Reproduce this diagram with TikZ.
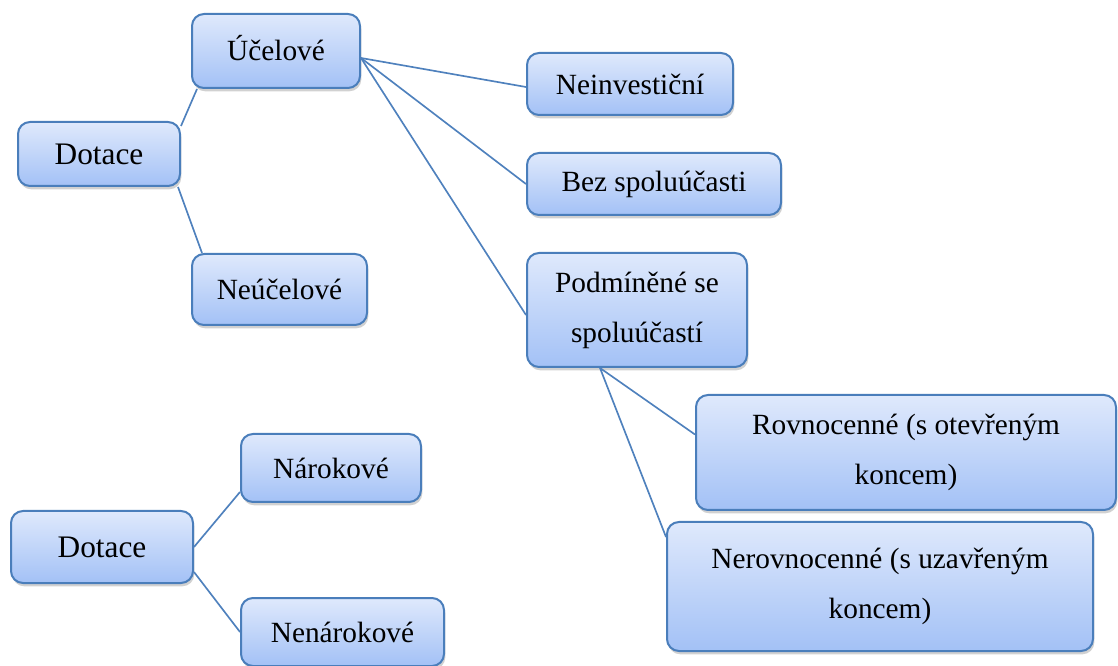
\documentclass[tikz,border=0pt]{standalone}
\usepackage{fontspec}
\setmainfont{Liberation Serif}
\usetikzlibrary{shadows,calc}
\definecolor{boxtop}{HTML}{DFE9FC}
\definecolor{boxbot}{HTML}{A3C1F6}
\definecolor{boxline}{HTML}{4A7EBB}
\definecolor{conn}{HTML}{4F81BD}
\tikzset{
  box/.style={draw=boxline, line width=1.5pt, rounded corners=9pt,
    top color=boxtop, bottom color=boxbot, align=center, inner sep=0pt,
    font=\fontsize{22}{37.5}\selectfont,
    drop shadow={shadow xshift=1pt, shadow yshift=-2.5pt, opacity=0.3, fill=black!60}},
  bigbox/.style={box, font=\fontsize{23.5}{28}\selectfont},
  conline/.style={draw=conn, line width=1.25pt},
}
\begin{document}
\begin{tikzpicture}[x=0.75pt, y=-0.75pt]
\useasboundingbox (0,0) rectangle (1118,666);
\node[bigbox, minimum width=162*0.75pt, minimum height=64*0.75pt] (d1) at (99,154) {Dotace};
\node[box, minimum width=168*0.75pt, minimum height=74*0.75pt] (ucel) at (276,51) {\raisebox{4pt}{Účelové}};
\node[box, minimum width=175*0.75pt, minimum height=71*0.75pt] (neucel) at (279.5,289.5) {Neúčelové};
\node[box, minimum width=206*0.75pt, minimum height=62*0.75pt] (neinv) at (630,84) {Neinvestiční};
\node[box, minimum width=254*0.75pt, minimum height=62*0.75pt] (bez) at (654,184) {Bez spoluúčasti};
\node[box, minimum width=220*0.75pt, minimum height=114*0.75pt] (podm) at (637,310) {Podmíněné se\\spoluúčastí};
\node[box, minimum width=420*0.75pt, minimum height=115*0.75pt] (rovn) at (906,452.5) {Rovnocenné (s otevřeným\\koncem)};
\node[box, minimum width=426*0.75pt, minimum height=129*0.75pt] (nerovn) at (880,586.5) {Nerovnocenné (s uzavřeným\\koncem)};
\node[bigbox, minimum width=182*0.75pt, minimum height=72*0.75pt] (d2) at (102,547) {Dotace};
\node[box, minimum width=180*0.75pt, minimum height=68*0.75pt] (narok) at (331,468) {Nárokové};
\node[box, minimum width=203*0.75pt, minimum height=68*0.75pt] (nenarok) at (342.5,632) {Nenárokové};

\draw[conline] ($(d1.north east)+(0,5)$) -- ($(ucel.south west)+(6,0)$);
\draw[conline] ($(d1.south east)+(-3,0)$) -- ($(neucel.north west)+(11,0)$);
\draw[conline] ($(ucel.east)+(0,7)$) -- ($(neinv.west)+(0,3)$);
\draw[conline] ($(ucel.east)+(0,7)$) -- (bez.west);
\draw[conline] ($(ucel.east)+(0,7)$) -- ($(podm.west)+(0,5)$);
\draw[conline] ($(podm.south)+(-37,0)$) -- ($(rovn.west)+(0,-18)$);
\draw[conline] ($(podm.south)+(-37,0)$) -- ($(nerovn.north west)+(0,16)$);
\draw[conline] (d2.east) -- ($(narok.south west)+(0,-11)$);
\draw[conline] ($(d2.east)+(0,25)$) -- (nenarok.west);
\end{tikzpicture}
\end{document}
